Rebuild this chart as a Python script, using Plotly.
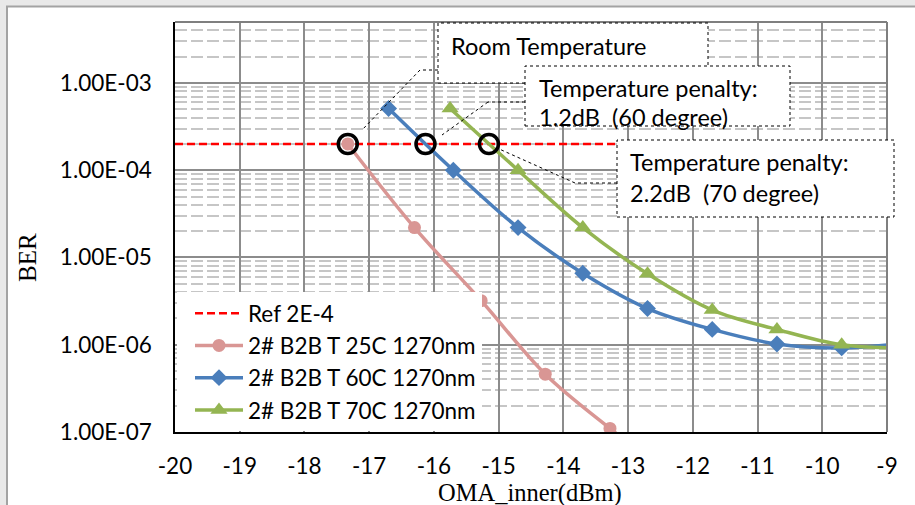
import plotly.graph_objects as go
import math

# ---------------- data ----------------
x_25c = [-17.33, -16.3, -15.27, -14.28, -13.28, -12.3]
ber_25c = [2.0e-4, 2.2e-5, 3.2e-6, 4.6e-7, 1.1e-7, 3.0e-8]

x_60c = [-16.7, -15.7, -14.7, -13.7, -12.7, -11.7, -10.7, -9.7, -8.7]
ber_60c = [5.1e-4, 1.0e-4, 2.2e-5, 6.6e-6, 2.6e-6, 1.5e-6, 1.02e-6, 9.2e-7, 1.05e-6]

x_70c = [-15.75, -14.7, -13.7, -12.7, -11.7, -10.7, -9.7, -8.7]
ber_70c = [5.1e-4, 1.0e-4, 2.2e-5, 6.5e-6, 2.5e-6, 1.5e-6, 1.0e-6, 9.2e-7]

ref_x = [-20, -9]
ref_ber = [2e-4, 2e-4]

cross_x = [-17.33, -16.13, -15.15]
cross_ber = [2e-4, 2e-4, 2e-4]

x_ticks = [-20, -19, -18, -17, -16, -15, -14, -13, -12, -11, -10, -9]
x_ticktext = ["-20", "-19", "-18", "-17", "-16", "-15", "-14", "-13", "-12", "-11", "-10", "-9"]
y_ticks = [1e-7, 1e-6, 1e-5, 1e-4, 1e-3]
y_ticktext = ["1.00E-07", "1.00E-06", "1.00E-05", "1.00E-04", "1.00E-03"]
y_minor = [m * 10.0 ** e for e in range(-7, -2) for m in range(2, 10)]

names = ["Ref 2E-4", "2# B2B T 25C 1270nm", "2# B2B T 60C 1270nm", "2# B2B T 70C 1270nm"]

# ---------------- layout geometry ----------------
W, H = 915, 505
ML, MR, MT, MB = 175, 28, 22, 73
PW = W - ML - MR
PH = H - MT - MB


def xp(px):
    return (px - ML) / PW


def yp(py):
    return (H - MB - py) / PH


FONT = "Lato"
SERIF = "Liberation Serif"

fig = go.Figure()

fig.add_trace(go.Scatter(
    x=ref_x, y=ref_ber, mode="lines", name=names[0], legendgroup="a",
    line=dict(color="#FF0000", width=2.5, dash="8px,4px")))

fig.add_trace(go.Scatter(
    x=x_25c, y=ber_25c, mode="lines+markers", name=names[1], legendgroup="b",
    line=dict(color="#D99694", width=3.5, shape="spline"),
    marker=dict(symbol="circle", size=13, color="#D99694")))

fig.add_trace(go.Scatter(
    x=x_60c, y=ber_60c, mode="lines+markers", name=names[2], legendgroup="c",
    line=dict(color="#4A7EBB", width=3.5, shape="spline"),
    marker=dict(symbol="diamond", size=13, color="#4A7EBB")))

fig.add_trace(go.Scatter(
    x=x_70c, y=ber_70c, mode="lines+markers", name=names[3], legendgroup="d",
    line=dict(color="#94B552", width=3.5, shape="spline"),
    marker=dict(symbol="triangle-up", size=15, color="#94B552")))

fig.add_trace(go.Scatter(
    x=cross_x, y=cross_ber, mode="markers", showlegend=False,
    marker=dict(symbol="circle-open", size=19, color="black", line=dict(width=3.5, color="black"))))

shapes = []
# outer window strips
shapes.append(dict(type="rect", xref="paper", yref="paper", x0=xp(0), x1=xp(W), y0=yp(6), y1=yp(0),
                   fillcolor="#e9e9e9", line=dict(width=0), layer="below"))
shapes.append(dict(type="rect", xref="paper", yref="paper", x0=xp(0), x1=xp(6), y0=yp(H), y1=yp(0),
                   fillcolor="#e9e9e9", line=dict(width=0), layer="below"))
shapes.append(dict(type="line", xref="paper", yref="paper", x0=xp(6), x1=xp(W), y0=yp(6.5), y1=yp(6.5),
                   line=dict(color="#a3a3a3", width=2)))
shapes.append(dict(type="line", xref="paper", yref="paper", x0=xp(7), x1=xp(7), y0=yp(H), y1=yp(6),
                   line=dict(color="#a3a3a3", width=2)))
# top/right frame of plot area
shapes.append(dict(type="line", xref="paper", yref="paper", x0=0, x1=1, y0=1, y1=1,
                   line=dict(color="#7f7f7f", width=2)))
shapes.append(dict(type="line", xref="paper", yref="paper", x0=1, x1=1, y0=0, y1=1,
                   line=dict(color="#7f7f7f", width=2)))
# legend background panel
shapes.append(dict(type="rect", xref="paper", yref="paper", x0=xp(177), x1=xp(482), y0=yp(431), y1=yp(292),
                   fillcolor="white", line=dict(width=0), layer="above"))

# callout boxes (px coords)
boxes = [(438, 23, 708, 83), (525, 66, 790, 126), (617, 140, 894, 217)]
for (x0, y0, x1, y1) in boxes:
    shapes.append(dict(type="rect", xref="paper", yref="paper", x0=xp(x0), x1=xp(x1), y0=yp(y1), y1=yp(y0),
                       fillcolor="white", line=dict(color="black", width=1, dash="dot"), layer="above"))
leaders = [[(438, 70), (420, 70), (362, 130)],
           [(525, 102), (488, 102), (442, 135)],
           [(617, 183), (575, 183), (497, 148)]]
for pts in leaders:
    for (ax, ay), (bx, by) in zip(pts[:-1], pts[1:]):
        shapes.append(dict(type="line", xref="paper", yref="paper", x0=xp(ax), y0=yp(ay), x1=xp(bx), y1=yp(by),
                           line=dict(color="black", width=1, dash="dot"), layer="above"))

annotations = []
box_texts = [(449, 46, "Room Temperature"),
             (537, 88, "Temperature penalty:"),
             (537, 117, "1.2dB\u00a0 (60 degree)"),
             (628, 162, "Temperature penalty:"),
             (628, 193, "2.2dB\u00a0 (70 degree)")]
for (tx, ty, t) in box_texts:
    annotations.append(dict(xref="paper", yref="paper", x=xp(tx), y=yp(ty), xanchor="left", yanchor="middle",
                            text=t, showarrow=False, font=dict(family=FONT, size=23.5, color="black")))

annotations.append(dict(xref="paper", yref="paper", x=xp(27), y=yp(258), xanchor="center", yanchor="middle",
                        text="BER", textangle=-90, showarrow=False,
                        font=dict(family=SERIF, size=25, color="black")))
annotations.append(dict(xref="paper", yref="paper", x=xp(530), y=yp(493), xanchor="center", yanchor="middle",
                        text="OMA_inner(dBm)", showarrow=False,
                        font=dict(family=SERIF, size=24.5, color="black")))

fig.update_layout(
    width=W, height=H,
    margin=dict(l=ML, r=MR, t=MT, b=MB, autoexpand=False),
    paper_bgcolor="white", plot_bgcolor="white",
    shapes=shapes, annotations=annotations,
    showlegend=True,
    legend=dict(x=xp(190), y=yp(292), xanchor="left", yanchor="top",
                bgcolor="rgba(0,0,0,0)", borderwidth=0, tracegroupgap=2, itemwidth=48,
                font=dict(family=FONT, size=22.5, color="black"), traceorder="normal"),
    xaxis=dict(range=[-20, -9], tickmode="array", tickvals=x_ticks, ticktext=x_ticktext,
               showgrid=True, gridcolor="#8c8c8c", gridwidth=1.5,
               showline=True, linecolor="black", linewidth=1.5, ticks="", zeroline=False,
               ticklabelstandoff=13,
               tickfont=dict(family=FONT, size=22.5, color="black")),
    yaxis=dict(type="log", range=[-7, math.log10(5e-3)], tickmode="array", tickvals=y_ticks,
               ticktext=y_ticktext, showgrid=True, gridcolor="#8c8c8c", gridwidth=1.5,
               showline=True, linecolor="black", linewidth=1.5, ticks="", zeroline=False,
               ticklabelstandoff=17,
               tickfont=dict(family=FONT, size=22.5, color="black"),
               minor=dict(tickmode="array", tickvals=y_minor, showgrid=True, gridcolor="#c6c6c6",
                          gridwidth=1.5, griddash="12px,4px", ticks="")),
)

fig.write_html("out.html")
